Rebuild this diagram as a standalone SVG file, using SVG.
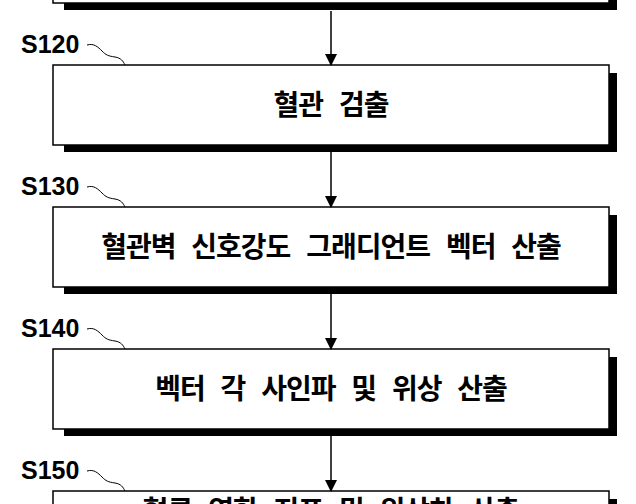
<svg xmlns="http://www.w3.org/2000/svg" width="636" height="504" viewBox="0 0 636 504">
<defs>
<style>
.shadow{fill:#000}
.box{fill:#fff;stroke:#000;stroke-width:1.5}
.lbl{font-family:"Liberation Sans",Arial,sans-serif;font-weight:bold;font-size:25px;fill:#000}
.txt{font-family:"Noto Sans CJK KR","Noto Sans",sans-serif;font-weight:bold;font-size:28px;letter-spacing:-1px;word-spacing:10.5px;fill:#000;text-anchor:middle}
.sq{fill:none;stroke:#000;stroke-width:1}
.conn{stroke:#000;stroke-width:1.5;fill:none}
</style>
<marker id="ah" markerWidth="12" markerHeight="18" refX="11" refY="6" orient="auto" markerUnits="userSpaceOnUse" viewBox="0 0 12 12">
<path d="M0,0 L12,6 L0,12 Z" fill="#000"/>
</marker>
</defs>
<rect width="636" height="504" fill="#fff"/>
<g id="node-s110">
<rect class="shadow" x="64" y="-69" width="553" height="79"/>
<rect class="box" x="53" y="-77" width="556" height="80"/>
</g>
<g id="node-s120">
<rect class="shadow" x="64" y="73" width="553" height="79"/>
<rect class="box" x="53" y="65" width="556" height="80"/>
<text class="lbl" x="21" y="53">S120</text>
<path class="sq" d="M87,45 C94,43 98,47 102,51 S108,56 115,57 C121,58 123,61 125,65"/>
<text class="txt" x="331" y="115">혈관 검출</text>
</g>
<g id="node-s130">
<rect class="shadow" x="64" y="215" width="553" height="79"/>
<rect class="box" x="53" y="207" width="556" height="80"/>
<text class="lbl" x="21" y="195">S130</text>
<path class="sq" d="M87,187 C94,185 98,189 102,193 S108,198 115,199 C121,200 123,203 125,207"/>
<text class="txt" x="331" y="257">혈관벽 신호강도 그래디언트 벡터 산출</text>
</g>
<g id="node-s140">
<rect class="shadow" x="64" y="357" width="553" height="79"/>
<rect class="box" x="53" y="349" width="556" height="80"/>
<text class="lbl" x="21" y="337">S140</text>
<path class="sq" d="M87,329 C94,327 98,331 102,335 S108,340 115,341 C121,342 123,345 125,349"/>
<text class="txt" x="331" y="399">벡터 각 사인파 및 위상 산출</text>
</g>
<g id="node-s150">
<rect class="shadow" x="64" y="499" width="553" height="79"/>
<rect class="box" x="53" y="491" width="556" height="80"/>
<text class="lbl" x="21" y="479">S150</text>
<path class="sq" d="M87,471 C94,469 98,473 102,477 S108,482 115,483 C121,484 123,487 125,491"/>
<text class="txt" x="331" y="521">혈류 역학 지표 및 위상차 산출</text>
</g>
<g id="connectors">
<line class="conn" x1="331" y1="11" x2="331" y2="65" marker-end="url(#ah)"/>
<line class="conn" x1="331" y1="152" x2="331" y2="207" marker-end="url(#ah)"/>
<line class="conn" x1="331" y1="294" x2="331" y2="349" marker-end="url(#ah)"/>
<line class="conn" x1="331" y1="436" x2="331" y2="491" marker-end="url(#ah)"/>
</g>
</svg>
